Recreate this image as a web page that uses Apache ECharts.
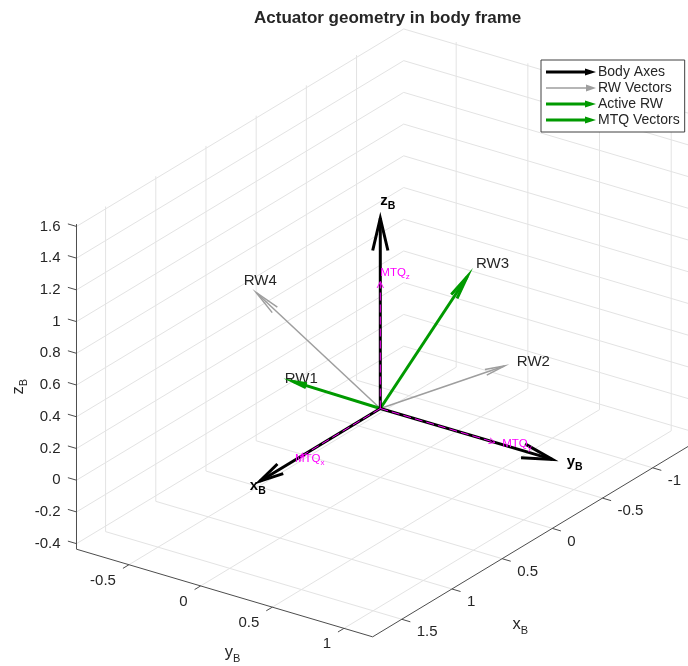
<!DOCTYPE html>
<html>
<head>
<meta charset="utf-8">
<script src="https://cdn.jsdelivr.net/npm/echarts@6/dist/echarts.min.js"></script>
<style>
  html, body { margin: 0; padding: 0; background: #fff; }
  #chart { width: 688px; height: 666px; }
</style>
</head>
<body>
<div id="chart"></div>
<script>
// ---- Axis limits and tick values (body frame units) ----
const xLim = [-1.47, 1.79];
const yLim = [-0.866, 1.2];
const zLim = [-0.435, 1.615];
const xTicks = [-1, -0.5, 0, 0.5, 1, 1.5];
const yTicks = [-0.5, 0, 0.5, 1];
const zTicks = [-0.4, -0.2, 0, 0.2, 0.4, 0.6, 0.8, 1, 1.2, 1.4, 1.6];

// ---- Body axes ----
const bodyNames = ['x', 'y', 'z'];
const bodyVectors = [[1.2, 0, 0], [0, 1.2, 0], [0, 0, 1.2]];

// ---- Reaction wheel spin axes (30 deg pyramid) ----
const rwNames = ['RW1', 'RW2', 'RW3', 'RW4'];
const rwVectors = [[0.866, 0, 0.5], [0, 0.866, 0.5], [-0.866, 0, 0.5], [0, -0.866, 0.5]];
const rwActive = ['RW1', 'RW3'];

// ---- Magnetorquer dipole axes ----
const mtqNames = ['x', 'y', 'z'];
const mtqVectors = [[0.8, 0, 0], [0, 0.8, 0], [0, 0, 0.8]];

// ---- View / layout ----
const AZ = 125, EL = 25;          // camera azimuth / elevation, degrees
const SCALE = 175;                // pixels per unit
const ORIGIN_PX = [380.3, 408.5]; // where the body origin sits on the canvas
const W = 688, H = 666;
const FONT = "'Liberation Sans', Arial, Helvetica, sans-serif";
const TXT = '#262626';
const GREEN = '#009a00';

const d2r = Math.PI / 180;
const ca = Math.cos(AZ * d2r), sa = Math.sin(AZ * d2r);
const ce = Math.cos(EL * d2r), se = Math.sin(EL * d2r);
// orthographic projection of a 3-D point onto the view plane
function project(p) {
  return [ca * p[0] + sa * p[1], -se * sa * p[0] + se * ca * p[1] + ce * p[2]];
}

const [x0, x1] = xLim, [y0, y1] = yLim, [z0, z1] = zLim;

// grid lines on the back walls and floor
const gridSegs = [];
xTicks.forEach(x => { gridSegs.push([[x, y0, z0], [x, y0, z1]]); gridSegs.push([[x, y0, z0], [x, y1, z0]]); });
yTicks.forEach(y => { gridSegs.push([[x0, y, z0], [x0, y, z1]]); gridSegs.push([[x0, y, z0], [x1, y, z0]]); });
zTicks.forEach(z => { gridSegs.push([[x0, y0, z], [x1, y0, z]]); gridSegs.push([[x0, y0, z], [x0, y1, z]]); });

// axis rulers and tick marks
const TICK = 0.06;
const axisSegs = [
  [[x1, y0, z0], [x1, y0, z1]],
  [[x1, y0, z0], [x1, y1, z0]],
  [[x0, y1, z0], [x1, y1, z0]]
];
zTicks.forEach(z => axisSegs.push([[x1, y0, z], [x1, y0 - TICK, z]]));
yTicks.forEach(y => axisSegs.push([[x1, y, z0], [x1 + TICK, y, z0]]));
xTicks.forEach(x => axisSegs.push([[x, y1, z0], [x, y1 + TICK, z0]]));

// tick labels: anchor point + text placement
const tickLabels = [];
zTicks.forEach(z => tickLabels.push({ p: [x1, y0, z], t: String(z), align: 'right', dx: -16, dy: 0 }));
yTicks.forEach(y => tickLabels.push({ p: [x1, y, z0], t: String(y), align: 'right', dx: -13, dy: 16 }));
xTicks.forEach(x => tickLabels.push({ p: [x, y1, z0], t: String(x), align: 'left', dx: 15, dy: 13 }));

// axis titles
const axisTitles = [
  { p: [x1, y0, (z0 + z1) / 2], t: '{m|z}{s|B}', dx: -57, dy: 0, rot: Math.PI / 2 },
  { p: [x1, (y0 + y1) / 2, z0], t: '{m|y}{s|B}', dx: 8, dy: 61, rot: 0 },
  { p: [(x0 + x1) / 2, y1, z0], t: '{m|x}{s|B}', dx: -16, dy: 88, rot: 0 }
];

function segSeries(name, segs, color, width, z) {
  return {
    type: 'custom', name, coordinateSystem: 'cartesian2d', z, silent: true,
    data: segs.map(s => project(s[0]).concat(project(s[1]))),
    encode: { x: [0, 2], y: [1, 3] },
    renderItem(params, api) {
      const a = api.coord([api.value(0), api.value(1)]);
      const b = api.coord([api.value(2), api.value(3)]);
      return { type: 'line', shape: { x1: a[0], y1: a[1], x2: b[0], y2: b[1] },
               style: { stroke: color, lineWidth: width, fill: null } };
    }
  };
}

function textSeries(name, items, styleFn, z) {
  return {
    type: 'custom', name, coordinateSystem: 'cartesian2d', z, silent: true,
    data: items.map(it => project(it.p)),
    encode: { x: 0, y: 1 },
    renderItem(params, api) {
      const it = items[params.dataIndex];
      const c = api.coord([api.value(0), api.value(1)]);
      return { type: 'text', x: c[0] + it.dx, y: c[1] + it.dy, rotation: it.rot || 0,
               style: styleFn(it) };
    }
  };
}

// arrow (shaft + open head + optional label), drawn from the origin
function arrowSeries(name, vectors, labels, o) {
  return {
    type: 'custom', name, coordinateSystem: 'cartesian2d', z: o.z, silent: true,
    itemStyle: { color: o.color },
    data: vectors.map(v => project(v)),
    encode: { x: 0, y: 1 },
    renderItem(params, api) {
      const v = vectors[params.dataIndex];
      const p0 = api.coord(project([0, 0, 0]));
      const p1 = api.coord([api.value(0), api.value(1)]);
      const dx = p1[0] - p0[0], dy = p1[1] - p0[1], L = Math.hypot(dx, dy);
      const ux = dx / L, uy = dy / L;
      const hl = o.headLen * L, hw = o.headWidth * L;
      const bx = p1[0] - ux * hl, by = p1[1] - uy * hl;
      const lineStyle = { stroke: o.color, lineWidth: o.width, fill: null, lineDash: o.dash || null };
      const children = [
        { type: 'line', shape: { x1: p0[0], y1: p0[1], x2: p1[0], y2: p1[1] }, style: lineStyle },
        { type: 'polyline', shape: { points: [[bx - uy * hw, by + ux * hw], [p1[0], p1[1]], [bx + uy * hw, by - ux * hw]] },
          style: { stroke: o.color, lineWidth: o.width, fill: null, lineJoin: 'miter' } }
      ];
      if (labels) {
        const n = Math.hypot(v[0], v[1], v[2]);
        const k = (n + o.labelGap) / n;
        const lp = api.coord(project([v[0] * k, v[1] * k, v[2] * k]));
        children.push({ type: 'text', x: lp[0], y: lp[1],
          style: Object.assign({ text: labels[params.dataIndex], align: 'left', textAlign: 'left',
                                 verticalAlign: 'middle', textVerticalAlign: 'middle' }, o.label) });
      }
      return { type: 'group', children };
    }
  };
}

const activeIdx = rwNames.map((n, i) => rwActive.includes(n) ? i : -1).filter(i => i >= 0);

const ARROW_THICK = 'path://M0,2.6 L39,2.6 L39,0.5 L50,4 L39,7.5 L39,5.4 L0,5.4 Z';
const ARROW_THIN = 'path://M0,3.25 L40,3.25 L40,0.5 L50,4 L40,7.5 L40,4.75 L0,4.75 Z';

const uMin = -ORIGIN_PX[0] / SCALE, uMax = (W - ORIGIN_PX[0]) / SCALE;
const wMax = ORIGIN_PX[1] / SCALE, wMin = -(H - ORIGIN_PX[1]) / SCALE;

const chart = echarts.init(document.getElementById('chart'), null, { renderer: 'canvas' });
chart.setOption({
  animation: false,
  backgroundColor: '#fff',
  title: {
    text: 'Actuator geometry in body frame', left: 254, top: 10, padding: 0,
    textStyle: { fontSize: 17, fontWeight: 'bold', color: TXT, fontFamily: FONT }
  },
  grid: { left: 0, right: 0, top: 0, bottom: 0 },
  xAxis: { type: 'value', min: uMin, max: uMax, show: false },
  yAxis: { type: 'value', min: wMin, max: wMax, show: false },
  legend: {
    left: 541, top: 60, orient: 'vertical', selectedMode: false,
    itemWidth: 50, itemHeight: 7, itemGap: 2,
    padding: [5, 5, 5, 5], backgroundColor: '#fff', borderColor: '#404040', borderWidth: 1,
    textStyle: { fontSize: 14, color: TXT, fontFamily: FONT, padding: [0, 0, 0, -3] },
    data: [
      { name: 'Body Axes', icon: ARROW_THICK },
      { name: 'RW Vectors', icon: ARROW_THIN },
      { name: 'Active RW', icon: ARROW_THICK },
      { name: 'MTQ Vectors', icon: ARROW_THICK, itemStyle: { color: GREEN } }
    ]
  },
  series: [
    segSeries('grid', gridSegs, '#e3e3e3', 1, 1),
    segSeries('axes', axisSegs, '#4d4d4d', 1, 2),
    textSeries('ticks', tickLabels, it => ({
      text: it.t, fill: TXT, fontSize: 15, fontFamily: FONT,
      align: it.align, textAlign: it.align, verticalAlign: 'middle', textVerticalAlign: 'middle'
    }), 2),
    textSeries('titles', axisTitles, it => ({
      text: it.t, fill: TXT, align: 'center', textAlign: 'center', verticalAlign: 'middle', textVerticalAlign: 'middle',
      rich: {
        m: { fontSize: 16.5, fontFamily: FONT, fill: TXT, lineHeight: 20, verticalAlign: 'top' },
        s: { fontSize: 11, fontFamily: FONT, fill: TXT, lineHeight: 11, verticalAlign: 'bottom' }
      }
    }), 2),
    arrowSeries('RW Vectors', rwVectors, rwNames, {
      color: '#9e9e9e', width: 1.5, headLen: 0.15, headWidth: 0.022, labelGap: 0.1, z: 3,
      label: { fill: TXT, fontSize: 15, fontFamily: FONT }
    }),
    arrowSeries('Active RW', activeIdx.map(i => rwVectors[i]), null, {
      color: GREEN, width: 3, headLen: 0.15, headWidth: 0.022, z: 4
    }),
    arrowSeries('Body Axes', bodyVectors, bodyNames.map(n => '{m|' + n + '}{s|B}'), {
      color: '#000000', width: 3, headLen: 0.17, headWidth: 0.04, labelGap: 0.1, z: 5,
      label: {
        fill: '#000',
        rich: {
          m: { fontSize: 15, fontWeight: 'bold', fontFamily: FONT, fill: '#000', lineHeight: 18, verticalAlign: 'top' },
          s: { fontSize: 10.5, fontWeight: 'bold', fontFamily: FONT, fill: '#000', lineHeight: 10, verticalAlign: 'bottom' }
        }
      }
    }),
    arrowSeries('MTQ Vectors', mtqVectors, mtqNames.map(n => '{m|MTQ}{s|' + n + '}'), {
      color: '#ff00ff', width: 1, dash: [8, 4], headLen: 0.05, headWidth: 0.025, labelGap: 0.05, z: 6,
      label: {
        fill: '#ff00ff',
        rich: {
          m: { fontSize: 11.5, fontFamily: FONT, fill: '#ff00ff', lineHeight: 14, verticalAlign: 'top' },
          s: { fontSize: 8, fontFamily: FONT, fill: '#ff00ff', lineHeight: 8, verticalAlign: 'bottom' }
        }
      }
    })
  ]
});
</script>
</body>
</html>
